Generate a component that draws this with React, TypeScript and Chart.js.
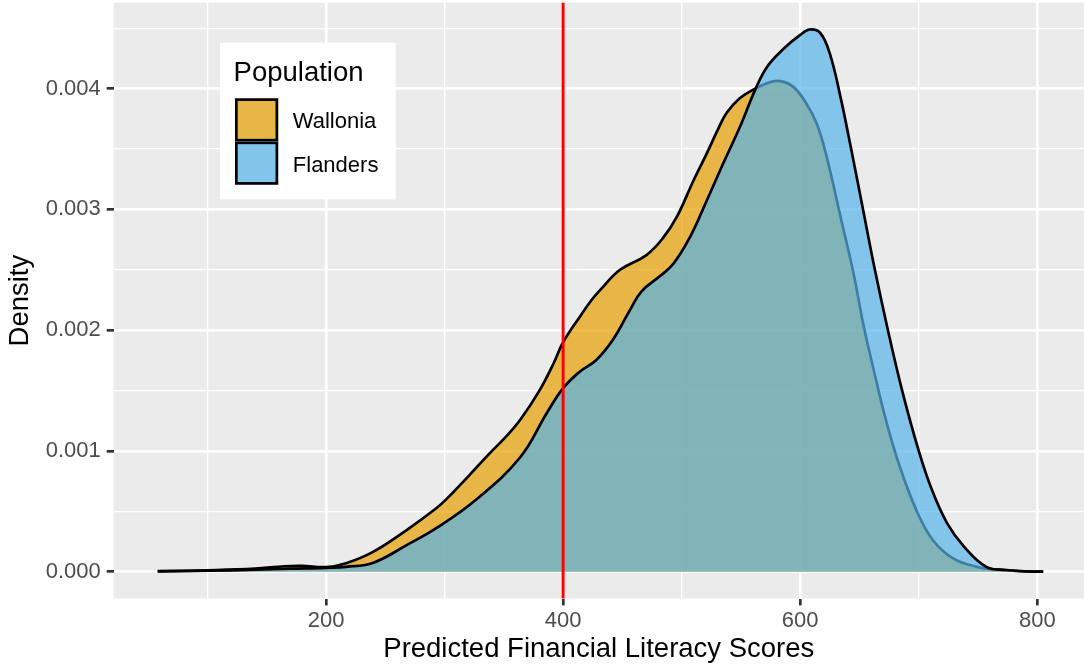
import { useEffect, useRef } from 'react';
import { Chart, registerables } from 'chart.js';

Chart.register(...registerables);

// ---------- data ----------
const seriesNames = ['Wallonia', 'Flanders'];

const wallX = [58, 100, 140, 165, 180, 200, 217, 240, 268, 293, 302, 320, 338, 352, 364, 380, 392, 400, 414, 424, 431, 448, 470, 484, 496, 510, 521, 530, 538, 549, 560, 572, 582, 594, 605, 614, 622, 634, 645, 653, 662, 673, 684, 698, 712, 729, 749, 763, 785, 805];
const wallY = [0.000005, 0.000012, 0.000025, 0.000045, 0.000048, 0.000038, 0.00007, 0.000166, 0.000345, 0.000525, 0.000605, 0.00079, 0.00098, 0.00112, 0.00126, 0.0015, 0.001726, 0.0019, 0.00211, 0.00225, 0.00233, 0.0025, 0.00262, 0.00276, 0.00294, 0.00324, 0.00346, 0.00365, 0.0038, 0.00392, 0.00399, 0.004045, 0.004064, 0.004017, 0.00388, 0.00371, 0.00345, 0.00294, 0.00247, 0.00206, 0.00167, 0.00123, 0.00087, 0.00051, 0.00026, 0.00011, 0.00004, 0.00002, 0.000004, 0];

const flanX = [58, 100, 140, 170, 200, 217, 240, 268, 293, 327, 364, 386, 400, 414, 428, 442, 456, 466, 482, 493, 507, 521, 535, 549, 562, 572, 586, 600, 608, 617, 625, 634, 643, 653, 663, 674, 686, 700, 711, 724, 738, 757, 774, 790, 805];
const flanY = [0.000003, 0.000008, 0.000016, 0.000025, 0.000032, 0.00004, 0.000075, 0.00022, 0.00036, 0.0006, 0.00095, 0.00131, 0.00152, 0.001656, 0.001753, 0.00192, 0.00216, 0.00232, 0.00245, 0.00255, 0.00277, 0.00307, 0.00338, 0.00368, 0.00399, 0.00418, 0.00433, 0.004445, 0.00449, 0.00446, 0.00429, 0.00393, 0.0035, 0.003, 0.0025, 0.002, 0.0015, 0.001, 0.00068, 0.0004, 0.00021, 0.00004, 0.000014, 0.000004, 0];

const xMajorTicks = [200, 400, 600, 800];
const xMinorTicks = [100, 300, 500, 700];
const yMajorTicks = [0, 0.001, 0.002, 0.003, 0.004];
const yMinorTicks = [0.0005, 0.0015, 0.0025, 0.0035, 0.0045];
const thresholdScore = 400;

const xTitle = 'Predicted Financial Literacy Scores';
const yTitle = 'Density';
const legendTitle = 'Population';

// ---------- styling ----------
const FONT = '"Liberation Sans", Arial, Helvetica, sans-serif';
const LW = 2.67;
const fillColors = ['rgba(230,159,0,0.7)', 'rgba(86,180,233,0.7)'];
const X_MIN = 20.8;
const X_MAX = 839.4;
const Y_MIN = -0.000222;
const Y_MAX = 0.004712;

const isIn = (v: number, arr: number[]) => arr.some((m) => Math.abs(m - v) < 1e-9);

const panelBg = {
  id: 'panelBg',
  beforeDraw(chart: any) {
    const { ctx, chartArea } = chart;
    ctx.save();
    ctx.fillStyle = '#EBEBEB';
    ctx.fillRect(chartArea.left, chartArea.top, chartArea.right - chartArea.left, chartArea.bottom - chartArea.top);
    ctx.restore();
  },
};

const vLine = {
  id: 'vLine',
  afterDatasetsDraw(chart: any) {
    const { ctx, chartArea, scales } = chart;
    const px = scales.x.getPixelForValue(thresholdScore);
    ctx.save();
    ctx.strokeStyle = '#FF0000';
    ctx.lineWidth = 2.9;
    ctx.beginPath();
    ctx.moveTo(px, chartArea.top);
    ctx.lineTo(px, chartArea.bottom);
    ctx.stroke();
    ctx.restore();
  },
};

const insetLegend = {
  id: 'insetLegend',
  afterDraw(chart: any) {
    const { ctx } = chart;
    ctx.save();
    ctx.fillStyle = '#FFFFFF';
    ctx.fillRect(220, 42.7, 175.7, 156.6);
    ctx.fillStyle = '#000000';
    ctx.textBaseline = 'alphabetic';
    ctx.textAlign = 'left';
    ctx.font = `27.5px ${FONT}`;
    ctx.fillText(legendTitle, 233.6, 80.7);
    const keySize = 43.2;
    const keyTops = [98.3, 141.5];
    const baselines = [127.5, 171.5];
    seriesNames.forEach((name, i) => {
      const top = keyTops[i];
      ctx.fillStyle = '#EBEBEB';
      ctx.fillRect(235, top, keySize, keySize);
      ctx.fillStyle = fillColors[i];
      ctx.fillRect(235, top, keySize, keySize);
      ctx.strokeStyle = '#000000';
      ctx.lineWidth = LW;
      ctx.strokeRect(235 + LW / 2, top + LW / 2, keySize - LW, keySize - LW);
      ctx.fillStyle = '#000000';
      ctx.font = `22px ${FONT}`;
      ctx.fillText(name, 292.8, baselines[i]);
    });
    ctx.restore();
  },
};

export default function App() {
  const canvasRef = useRef<HTMLCanvasElement | null>(null);

  useEffect(() => {
    const canvas = canvasRef.current;
    if (!canvas) return;
    const makeData = (xs: number[], ys: number[]) => xs.map((x, i) => ({ x, y: ys[i] }));

    const chart = new Chart(canvas, {
      type: 'line',
      data: {
        datasets: [
          {
            label: seriesNames[0],
            data: makeData(wallX, wallY),
            fill: 'origin',
            backgroundColor: fillColors[0],
            borderColor: '#000000',
            borderWidth: LW,
            pointRadius: 0,
            tension: 0.4,
            borderJoinStyle: 'round',
            order: 1,
          },
          {
            label: seriesNames[1],
            data: makeData(flanX, flanY),
            fill: 'origin',
            backgroundColor: fillColors[1],
            borderColor: '#000000',
            borderWidth: LW,
            pointRadius: 0,
            tension: 0.4,
            borderJoinStyle: 'round',
            order: 0,
          },
        ],
      },
      options: {
        animation: false,
        responsive: false,
        devicePixelRatio: 1,
        events: [],
        layout: { padding: { top: 2.7, left: 0, right: 0, bottom: 0 } },
        plugins: {
          legend: { display: false },
          tooltip: { enabled: false },
        },
        scales: {
          x: {
            type: 'linear',
            min: X_MIN,
            max: X_MAX,
            afterBuildTicks: (s: any) => {
              s.ticks = [...xMinorTicks, ...xMajorTicks].sort((a, b) => a - b).map((v) => ({ value: v }));
            },
            afterFit: (s: any) => {
              s.height = 69.5;
              s.paddingLeft = 0;
              s.paddingRight = 0;
            },
            border: { display: false },
            grid: {
              color: '#FFFFFF',
              lineWidth: (c: any) => (c.tick && isIn(c.tick.value, xMajorTicks) ? LW : LW / 2),
              drawTicks: true,
              tickLength: 6.9,
              tickWidth: LW,
              tickColor: (c: any) => (c.tick && isIn(c.tick.value, xMajorTicks) ? '#333333' : 'rgba(0,0,0,0)'),
            },
            ticks: {
              autoSkip: false,
              maxRotation: 0,
              minRotation: 0,
              padding: 2,
              color: '#4D4D4D',
              font: { family: FONT, size: 22, lineHeight: 1.2 },
              callback: (v: any) => (isIn(Number(v), xMajorTicks) ? String(v) : ''),
            },
            title: {
              display: true,
              text: xTitle,
              color: '#000000',
              font: { family: FONT, size: 27.5, lineHeight: 1.2 },
              padding: { top: 0, bottom: 2.3 },
            },
          },
          y: {
            type: 'linear',
            min: Y_MIN,
            max: Y_MAX,
            afterBuildTicks: (s: any) => {
              s.ticks = [...yMinorTicks, ...yMajorTicks].sort((a, b) => a - b).map((v) => ({ value: v }));
            },
            afterFit: (s: any) => {
              s.width = 113.6;
              s.paddingTop = 0;
              s.paddingBottom = 0;
            },
            border: { display: false },
            grid: {
              color: '#FFFFFF',
              lineWidth: (c: any) => (c.tick && isIn(c.tick.value, yMajorTicks) ? LW : LW / 2),
              drawTicks: true,
              tickLength: 6.9,
              tickWidth: LW,
              tickColor: (c: any) => (c.tick && isIn(c.tick.value, yMajorTicks) ? '#333333' : 'rgba(0,0,0,0)'),
            },
            ticks: {
              autoSkip: false,
              padding: 6,
              color: '#4D4D4D',
              font: { family: FONT, size: 22, lineHeight: 1.2 },
              callback: (v: any) => (isIn(Number(v), yMajorTicks) ? Number(v).toFixed(3) : ''),
            },
            title: {
              display: true,
              text: yTitle,
              color: '#000000',
              font: { family: FONT, size: 27.5, lineHeight: 1.2 },
              padding: { top: 3.7, bottom: 0 },
            },
          },
        },
      },
      plugins: [panelBg, vLine, insetLegend],
    } as any);

    return () => chart.destroy();
  }, []);

  return (
    <div style={{ position: 'fixed', left: 0, top: 0, width: 1084, height: 668, background: '#FFFFFF' }}>
      <canvas ref={canvasRef} width={1084} height={668} style={{ width: 1084, height: 668, display: 'block' }} />
    </div>
  );
}
